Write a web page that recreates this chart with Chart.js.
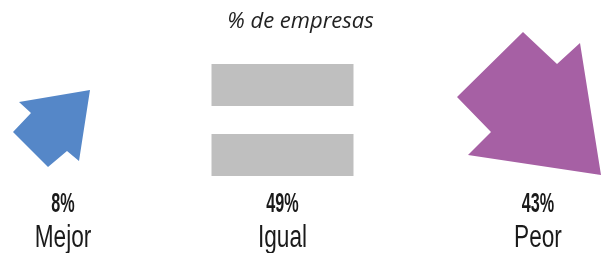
<!DOCTYPE html>
<html>
<head>
<meta charset="utf-8">
<script src="https://cdn.jsdelivr.net/npm/chart.js@4.4.1/dist/chart.umd.min.js"></script>
<style>
  html, body { margin: 0; padding: 0; background: #fff; }
  #wrap { width: 607px; height: 253px; }
</style>
</head>
<body>
<div id="wrap"><canvas id="chart"></canvas></div>
<script>
const categories = ['Mejor', 'Igual', 'Peor'];
const values = [8, 49, 43];
const valueLabels = ['8%', '49%', '43%'];
const titleText = '% de empresas';

// shape per category, drawn around the x position the scale gives
// (dx shifts the anchor, y values are canvas pixels)
const shapes = {
    Mejor: { dx: 0, color: '#5587c8', poly: [[27, 90], [-44, 102], [-32, 113], [-50, 132], [-15, 167], [4, 151], [16, 161]] },
    Igual: { dx: -18, color: '#bfbfbf', rects: [[-71, 64, 142, 42], [-71, 134, 142, 42]] },
    Peor:  { dx: 0, color: '#a660a4', poly: [[-15, 32], [19, 64], [42, 43], [63, 175], [-70, 155], [-47, 132], [-81, 97]] }
};

function drawSqueezed(ctx, text, x, y, font, sx) {
    ctx.save();
    ctx.translate(x, y);
    ctx.scale(sx, 1);
    ctx.font = font;
    ctx.fillText(text, 0, 0);
    ctx.restore();
}

const infographic = {
    id: 'infographic',
    afterDatasetsDraw(chart) {
        const ctx = chart.ctx;
        const meta = chart.getDatasetMeta(0);
        meta.data.forEach(function (bar, i) {
            const s = shapes[categories[i]];
            const cx = bar.x + s.dx;
            ctx.save();
            ctx.fillStyle = s.color;
            if (s.poly) {
                ctx.beginPath();
                s.poly.forEach(function (p, j) {
                    if (j === 0) ctx.moveTo(cx + p[0], p[1]);
                    else ctx.lineTo(cx + p[0], p[1]);
                });
                ctx.closePath();
                ctx.fill();
            }
            if (s.rects) {
                s.rects.forEach(function (r) {
                    ctx.fillRect(cx + r[0], r[1], r[2], r[3]);
                });
            }
            ctx.fillStyle = '#1a1a1a';
            ctx.textAlign = 'center';
            ctx.textBaseline = 'alphabetic';
            drawSqueezed(ctx, valueLabels[i], cx, 212, 'bold 27px "Liberation Sans"', 0.6);
            drawSqueezed(ctx, categories[i], cx, 247, '31px "Liberation Sans"', 0.73);
            ctx.restore();
        });
    }
};

new Chart(document.getElementById('chart'), {
    type: 'bar',
    data: {
        labels: categories,
        datasets: [{
            data: values,
            backgroundColor: 'rgba(0,0,0,0)'
        }]
    },
    options: {
        responsive: true,
        maintainAspectRatio: false,
        animation: false,
        layout: { padding: { left: 63, right: 69, top: 0, bottom: 0 } },
        scales: {
            x: { type: 'category', offset: false, display: false },
            y: { display: false, min: 0, max: 100 }
        },
        plugins: {
            legend: { display: false },
            tooltip: { enabled: false },
            title: {
                display: true,
                text: titleText,
                color: '#222',
                font: { family: '"Open Sans"', size: 22, style: 'italic', weight: 'normal' },
                padding: { top: 9, bottom: 0 }
            }
        }
    },
    plugins: [infographic]
});
</script>
</body>
</html>
